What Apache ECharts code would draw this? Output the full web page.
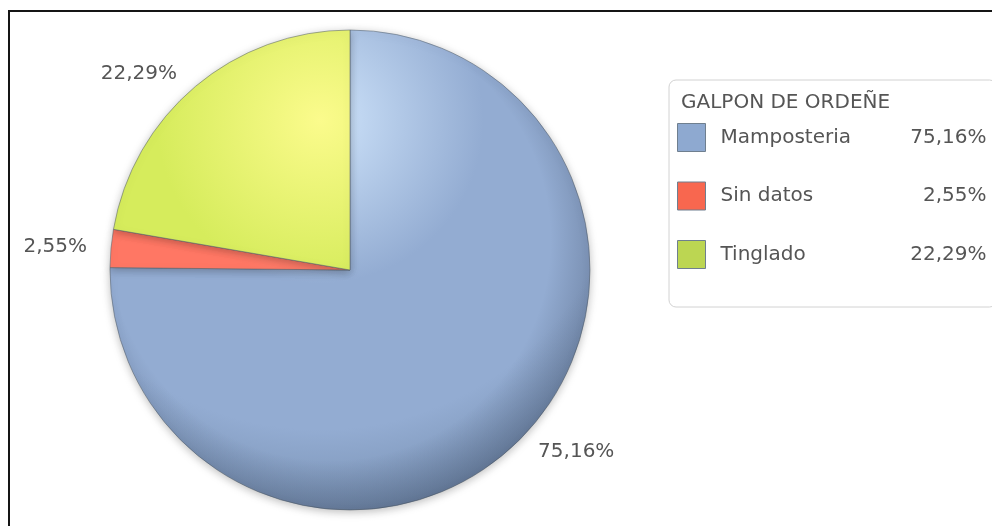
<!DOCTYPE html>
<html>
<head>
<meta charset="utf-8">
<script src="https://cdn.jsdelivr.net/npm/echarts@6/dist/echarts.min.js"></script>
<style>
  html, body { margin: 0; padding: 0; background: #fff; }
  #chart { width: 992px; height: 526px; }
</style>
</head>
<body>
<div id="chart"></div>
<script>
// Categories and shares (%) of the milking shed construction type
const categories = ['Mamposteria', 'Sin datos', 'Tinglado'];
const shares = [75.16, 2.55, 22.29];
const legendTitle = 'GALPON DE ORDEÑE';

// Palette: base, highlight and rim tones per slice, flat legend swatch
const baseColors = ['#93acd2', '#ff7764', '#d6ec5c'];
const lightColors = ['#cfe4fb', '#ffa090', '#fbfb8c'];
const darkColors = ['#6f87a7', '#e86250', '#bcd248'];
const swatchColors = ['#8ea9d0', '#f8674f', '#bcd652'];

const fmt = v => v.toFixed(2).replace('.', ',') + '%';

const chart = echarts.init(document.getElementById('chart'));

const CX = 350, CY = 270, R = 240;
const FONT = 'DejaVu Sans';
const TEXT = '#555555';

function shade(i) {
  return new echarts.graphic.RadialGradient(CX - 30, CY - 150, 430, [
    { offset: 0, color: lightColors[i] },
    { offset: 0.38, color: baseColors[i] },
    { offset: 0.72, color: baseColors[i] },
    { offset: 1, color: darkColors[i] }
  ], true);
}

const pieData = categories.map((name, i) => ({
  name,
  value: shares[i],
  itemStyle: { color: shade(i) }
}));

const rimData = categories.map((name, i) => ({ name, value: shares[i] }));

chart.setOption({
  animation: false,
  backgroundColor: '#ffffff',
  graphic: [{
    type: 'rect',
    z: -10,
    shape: { x: 9, y: 11, width: 1000, height: 600 },
    style: { fill: 'none', stroke: '#151515', lineWidth: 2 }
  }],
  title: {
    text: legendTitle,
    left: 681,
    top: 93,
    padding: 0,
    z: 10,
    textStyle: { fontFamily: FONT, fontSize: 20, fontWeight: 'normal', color: TEXT }
  },
  legend: {
    orient: 'vertical',
    left: 669,
    top: 80,
    padding: [43, 10, 38, 8],
    itemWidth: 28,
    itemHeight: 28,
    itemGap: 29.5,
    icon: 'rect',
    backgroundColor: '#ffffff',
    borderColor: '#d2d2d2',
    borderWidth: 1,
    borderRadius: 7,
    selectedMode: false,
    data: categories.map((name, i) => ({
      name,
      itemStyle: { color: swatchColors[i], borderColor: '#6f7f8f', borderWidth: 1 }
    })),
    formatter: name => {
      const i = categories.indexOf(name);
      return '{sp|}{n|' + name + '}{v|' + fmt(shares[i]) + '}';
    },
    textStyle: {
      fontFamily: FONT,
      fontSize: 20,
      color: TEXT,
      rich: {
        sp: { width: 10 },
        n: { width: 186, fontFamily: FONT, fontSize: 20, color: TEXT },
        v: { width: 80, align: 'right', fontFamily: FONT, fontSize: 20, color: TEXT }
      }
    }
  },
  series: [
    {
      type: 'pie',
      center: [CX, CY],
      radius: R,
      startAngle: 90,
      clockwise: true,
      data: pieData,
      itemStyle: {
        borderColor: 'rgba(90,100,110,0.55)',
        borderWidth: 1,
        shadowBlur: 8,
        shadowColor: 'rgba(0,0,0,0.25)',
        shadowOffsetY: 2
      },
      label: {
        show: true,
        position: 'outside',
        formatter: p => fmt(p.value),
        fontFamily: FONT,
        fontSize: 20,
        color: TEXT
      },
      labelLine: { show: false, length: 16, length2: 3 },
      emphasis: { disabled: true }
    },
    {
      // darkening toward the lower-right rim for the rounded look
      type: 'pie',
      center: [CX, CY],
      radius: R,
      startAngle: 90,
      clockwise: true,
      silent: true,
      data: rimData,
      itemStyle: {
        color: new echarts.graphic.RadialGradient(CX - 20, CY - 30, 290, [
          { offset: 0, color: 'rgba(20,30,50,0)' },
          { offset: 0.76, color: 'rgba(20,30,50,0)' },
          { offset: 1, color: 'rgba(20,30,50,0.32)' }
        ], true)
      },
      label: { show: false },
      labelLine: { show: false },
      emphasis: { disabled: true }
    }
  ]
});
</script>
</body>
</html>
